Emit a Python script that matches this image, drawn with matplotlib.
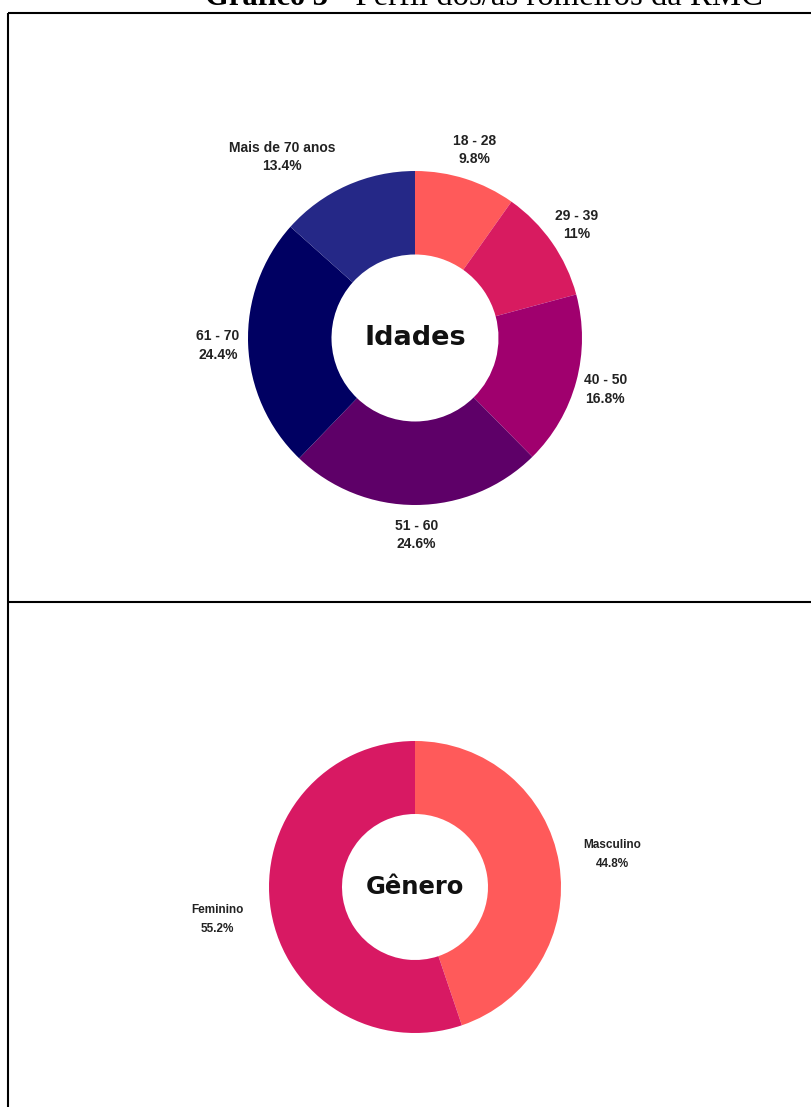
import matplotlib
matplotlib.use("Agg")
import matplotlib.pyplot as plt

# data
age_labels = ["18 - 28", "29 - 39", "40 - 50", "51 - 60", "61 - 70", "Mais de 70 anos"]
age_pct = [9.8, 11, 16.8, 24.6, 24.4, 13.4]
age_colors = ["#FF5A5A", "#D81B60", "#A0006E", "#5E0068", "#000062", "#252887"]

gender_labels = ["Masculino", "Feminino"]
gender_pct = [44.8, 55.2]
gender_colors = ["#FF5A5A", "#D81963"]

W, H = 811, 1107
fig = plt.figure(figsize=(W / 100, H / 100), dpi=100)
ax = fig.add_axes([0, 0, 1, 1])


def fmt(v):
    return ("%.1f" % v).rstrip("0").rstrip(".") + "%"


def donut(values, names, colors, cx, cy, r, label_r, fs, spacing, title, title_fs):
    # cy is given in image pixels (from top)
    cy = H - cy
    labels = [n + "\n" + fmt(v) for n, v in zip(names, values)]
    wedges, texts = ax.pie(values, colors=colors, labels=labels, startangle=90,
                           counterclock=False, center=(cx, cy), radius=r,
                           labeldistance=label_r,
                           wedgeprops=dict(width=r * 0.5, linewidth=0),
                           textprops=dict(fontsize=fs, fontweight="bold",
                                          color="#222222", family="Liberation Sans",
                                          linespacing=spacing))
    for t in texts:
        t.set_ha("center")
        t.set_va("center")
    ax.text(cx, cy, title, ha="center", va="center", fontsize=title_fs,
            fontweight="bold", color="#111111", family="DejaVu Sans")
    return texts


top_texts = donut(age_pct, age_labels, age_colors, 415, 338, 167, 1.18, 10, 1.4,
                  "Idades", 19.5)
# the last label sits further out to the left in the original
top_texts[-1].set_position((282, H - 157))

donut(gender_pct, gender_labels, gender_colors, 415, 887, 146, 1.37, 8.5, 1.7,
      "Gênero", 17.5)

ax.set_xlim(0, W)
ax.set_ylim(0, H)
ax.set_aspect("auto")
ax.axis("off")

# frame lines of the document table
lw = 1.5
ax.plot([7.5, 7.5], [0, H - 12.5], color="black", lw=lw, solid_capstyle="butt")
ax.plot([7.5, W], [H - 12.5, H - 12.5], color="black", lw=lw, solid_capstyle="butt")
ax.plot([7.5, W], [H - 602, H - 602], color="black", lw=lw, solid_capstyle="butt")

# caption cut off at the top of the page
cap_bold = ax.text(205, H - 5, "Gráfico 3", ha="left", va="baseline", fontsize=22,
                   fontweight="bold", family="Liberation Serif", clip_on=False)
cap_rest = ax.text(0, H - 5, " - Perfil dos/as romeiros da RMC", ha="left",
                   va="baseline", fontsize=22, family="Liberation Serif", clip_on=False)
fig.canvas.draw()
r = fig.canvas.get_renderer()
x0 = cap_bold.get_window_extent(r).x1
w = cap_rest.get_window_extent(r).width
cap_rest.set_fontsize(22 * (762 - x0) / w)
cap_rest.set_x(x0)

fig.savefig("out.png", dpi=100, facecolor="white")
